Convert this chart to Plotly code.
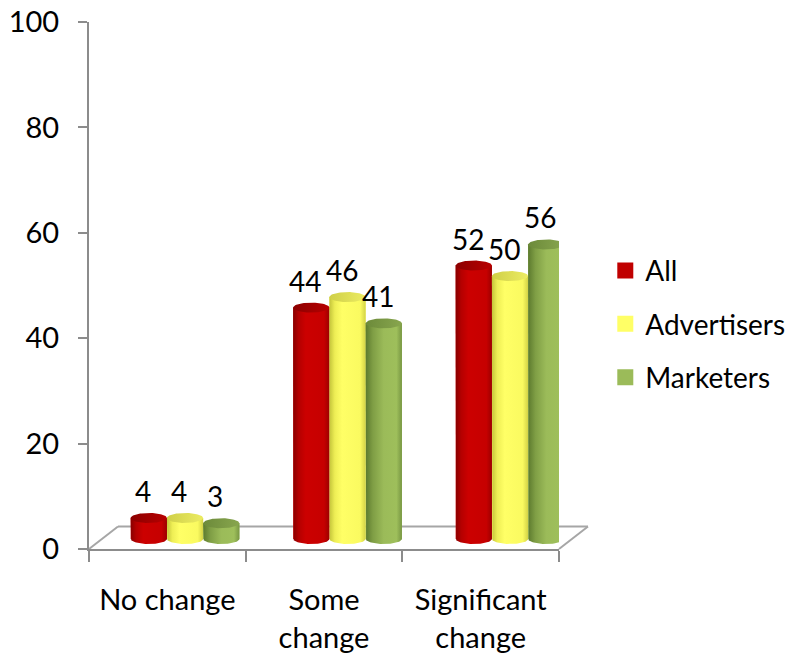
import numpy as np
import plotly.graph_objects as go

# ---- data ----
categories = ["No change", "Some<br>change", "Significant<br>change"]
series_names = ["All", "Advertisers", "Marketers"]
all_pct = [4, 44, 52]
advertisers_pct = [4, 46, 50]
marketers_pct = [3, 41, 56]

# ---- styling ----
FONT = "Lato"
FS = 28
FS_AXIS = 29
AXIS_GREY = "#8c8c8c"
legend_colors = ["#c00000", "#ffff66", "#9bbb59"]
body_scales = [
    [[0, "#880000"], [0.15, "#b40000"], [0.35, "#cc0000"], [0.85, "#c60000"], [1, "#9c0000"]],
    [[0, "#c4c43a"], [0.15, "#eeee55"], [0.35, "#ffff66"], [0.85, "#fafa60"], [1, "#d2d246"]],
    [[0, "#5c7a2e"], [0.2, "#7f9e45"], [0.5, "#9bbb59"], [0.85, "#9ebf5b"], [1, "#789743"]],
]
cap_scales = [
    [[0, "#8c0000"], [1, "#b80000"]],
    [[0, "#cfcf48"], [1, "#ecec62"]],
    [[0, "#6c8a3a"], [1, "#88a64e"]],
]

W, H = 792, 656
ML, MR, MT, MB = 89, 233, 22, 106.5
plot_w = W - ML - MR
plot_h = H - MT - MB

# bars live on a secondary (depth-plane) pair of axes
x2_range = [-0.591, 2.3015]
y2_range = [-1.9, 98.3]
bar_w = 0.223
px_per_y2 = plot_h / (y2_range[1] - y2_range[0])
cap_b = 5.0 / px_per_y2          # half height of the elliptical cap, in y2 units

values = [all_pct, advertisers_pct, marketers_pct]

fig = go.Figure()

# invisible trace to register the category axis
fig.add_trace(go.Scatter(x=categories, y=[0, 0, 0], mode="markers",
                         marker=dict(opacity=0), showlegend=False, hoverinfo="skip"))

t_half = np.linspace(0, np.pi, 40)
t_full = np.linspace(0, 2 * np.pi, 80)

for j, (name, vals) in enumerate(zip(series_names, values)):
    pos = [i + (j - 1) * bar_w for i in range(len(categories))]
    # solid base bars
    fig.add_trace(go.Bar(x=pos, y=vals, width=bar_w, xaxis="x2", yaxis="y2",
                         marker=dict(color=legend_colors[j], line=dict(width=0)),
                         name=name, showlegend=False, hoverinfo="skip"))
    a = bar_w / 2
    for xc, v in zip(pos, vals):
        x0, x1 = xc - a, xc + a
        # cylinder body: left side, rounded bottom, right side
        bx = [x0, x0] + list(xc - a * np.cos(t_half)) + [x1, x0]
        by = [v, 0] + list(-cap_b * np.sin(t_half)) + [v, v]
        fig.add_trace(go.Scatter(x=bx, y=by, xaxis="x2", yaxis="y2", mode="lines",
                                 line=dict(width=0), fill="toself",
                                 fillgradient=dict(type="horizontal",
                                                   colorscale=body_scales[j]),
                                 showlegend=False, hoverinfo="skip"))
        # elliptical top
        fig.add_trace(go.Scatter(x=list(xc + a * np.cos(t_full)),
                                 y=list(v + cap_b * np.sin(t_full)),
                                 xaxis="x2", yaxis="y2", mode="lines",
                                 line=dict(width=0), fill="toself",
                                 fillgradient=dict(type="horizontal",
                                                   colorscale=cap_scales[j]),
                                 showlegend=False, hoverinfo="skip"))
        fig.add_annotation(x=xc, y=v, xref="x2", yref="y2", text=str(v),
                           showarrow=False, yshift=27, xshift=-6,
                           font=dict(family=FONT, size=FS, color="#000"))

# legend entries
for j, name in enumerate(series_names):
    fig.add_trace(go.Scatter(x=[None], y=[None], mode="markers", name=name,
                             legendgroup=name,
                             marker=dict(symbol="square", size=18,
                                         color=legend_colors[j])))


def to_paper(px, py):
    return (px - ML) / plot_w, (H - MB - py) / plot_h


floor_edges = [((89, 549.5), (118, 527)), ((118, 527), (588, 527)),
               ((559, 549.5), (588, 527))]
for p, q in floor_edges:
    (xa, ya), (xb, yb) = to_paper(*p), to_paper(*q)
    fig.add_shape(type="line", xref="paper", yref="paper", x0=xa, y0=ya, x1=xb, y1=yb,
                  line=dict(color="#a6a6a6", width=2), layer="below")

fig.update_layout(
    width=W, height=H,
    margin=dict(l=ML, r=MR, t=MT, b=MB, pad=0, autoexpand=False),
    paper_bgcolor="white", plot_bgcolor="rgba(0,0,0,0)",
    font=dict(family=FONT, size=FS, color="#000"),
    barmode="overlay",
    showlegend=True,
    legend=dict(x=1.0985, xanchor="left", y=0.5755, yanchor="top",
                font=dict(family=FONT, size=FS, color="#000"),
                tracegroupgap=14, bgcolor="rgba(0,0,0,0)"),
    xaxis=dict(type="category", categoryorder="array", categoryarray=categories,
               range=[-0.5, 2.5], showline=True, linecolor=AXIS_GREY, linewidth=2,
               ticks="outside", tickson="boundaries", ticklen=11, tickwidth=2,
               tickcolor=AXIS_GREY, showgrid=False, zeroline=False, automargin=False,
               ticklabelstandoff=24, tickfont=dict(family=FONT, size=FS_AXIS)),
    yaxis=dict(range=[0, 100], dtick=20, showline=True, linecolor=AXIS_GREY,
               linewidth=2, ticks="outside", ticklen=9, tickwidth=2, automargin=False,
               tickcolor=AXIS_GREY, showgrid=False, zeroline=False,
               ticklabelstandoff=13, tickfont=dict(family=FONT, size=FS_AXIS)),
    xaxis2=dict(overlaying="x", anchor="y2", range=x2_range, visible=False),
    yaxis2=dict(overlaying="y", anchor="x2", range=y2_range, visible=False),
)

fig.write_html("out.html")
